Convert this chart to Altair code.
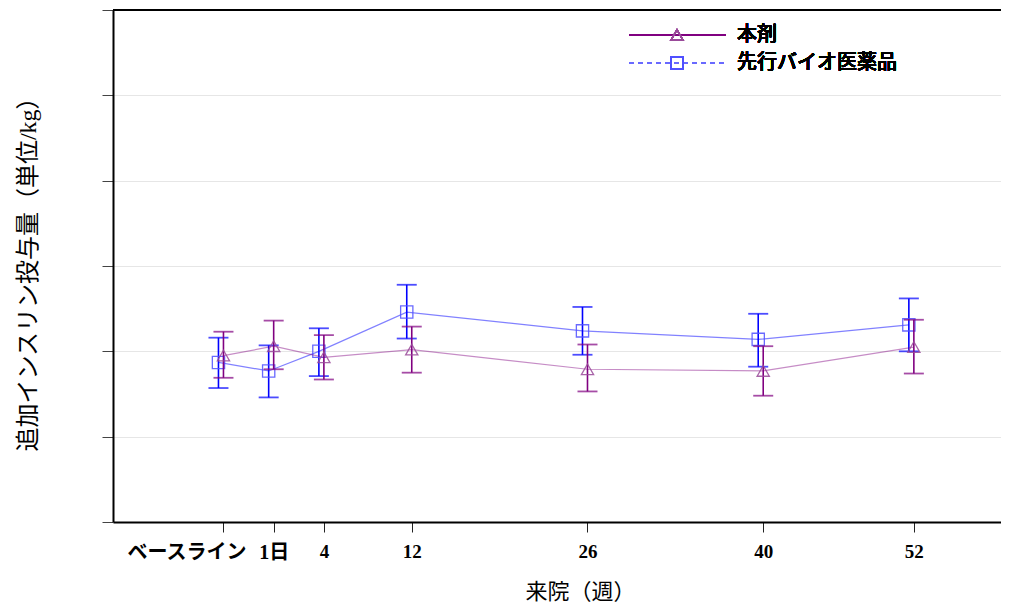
import altair as alt
import pandas as pd

visits = ["ベースライン", "1日", "4", "12", "26", "40", "52"]
visit_pos = [-3, 1, 5, 12, 26, 40, 52]
series = ["本剤", "先行バイオ医薬品"]

mean_a = [0.195, 0.206, 0.193, 0.202, 0.179, 0.177, 0.205]
lo_a = [0.169, 0.179, 0.167, 0.175, 0.153, 0.148, 0.174]
hi_a = [0.223, 0.236, 0.219, 0.229, 0.208, 0.206, 0.237]

mean_b = [0.187, 0.177, 0.200, 0.246, 0.224, 0.214, 0.231]
lo_b = [0.157, 0.146, 0.171, 0.215, 0.196, 0.182, 0.200]
hi_b = [0.216, 0.207, 0.227, 0.278, 0.252, 0.244, 0.262]

y_ticks = [0, 0.1, 0.2, 0.3, 0.4, 0.5, 0.6]

rows = []
for s, m, lo, hi in [(series[0], mean_a, lo_a, hi_a), (series[1], mean_b, lo_b, hi_b)]:
    for v, p, mm, l, h in zip(visits, visit_pos, m, lo, hi):
        rows.append({"series": s, "visit": v, "pos": p, "mean": mm, "lo": l, "hi": h})
df = pd.DataFrame(rows)

SERIF = "Liberation Serif, Noto Sans CJK JP"
CJK = "Noto Sans CJK JP"

PLOT_W = 895   # full drawn x range (right part runs off the page like the reference)
VIEW_W = 885   # visible view width so the page does not overflow

expr = "datum.label"
for p, v in reversed(list(zip(visit_pos, visits))):
    expr = f"datum.value == {p} ? '{v}' : ({expr})"

x_enc = alt.X(
    "pos:Q",
    scale=alt.Scale(domain=[-11.8, 59.5], nice=False, zero=False, range=[0, PLOT_W]),
    axis=alt.Axis(
        values=visit_pos,
        labelExpr=expr,
        title="来院（週）",
        grid=False,
        tickSize=10,
        tickColor="#222222",
        domainColor="#000000",
        domainWidth=2,
        labelFont=SERIF,
        labelFontSize={"condition": {"test": "datum.value < 2", "value": 20}, "value": 19},
        labelFontWeight="bold",
        labelColor="#000000",
        labelPadding=10,
        labelOffset={"condition": {"test": "datum.value < 0", "value": -37}, "value": 0},
        titleFont=SERIF,
        titleFontSize=22,
        titleFontWeight="normal",
        titleColor="#000000",
        titleX=467,
        titleY=69,
        titleBaseline="middle",
    ),
)

y_enc = alt.Y(
    "mean:Q",
    scale=alt.Scale(domain=[0, 0.6], nice=False, zero=False),
    axis=alt.Axis(
        values=y_ticks,
        labels=False,
        title="追加インスリン投与量（単位/kg）",
        grid=True,
        gridColor="#e6e6e6",
        gridWidth=1,
        tickSize=11,
        tickColor="#444444",
        domainColor="#000000",
        domainWidth=2,
        titleFont=SERIF,
        titleFontSize=24,
        titleFontWeight="normal",
        titleColor="#000000",
        titleX=-85,
        titleY=258,
        titleAngle=270,
        titleBaseline="middle",
    ),
)

styles = {
    series[0]: dict(off=0, err="#800080", line="#800080", lop=0.45, mark="#9a4a9a", shape="triangle-up"),
    series[1]: dict(off=-5, err="#0000ff", line="#1a1aff", lop=0.55, mark="#5050ff", shape="square"),
}

layers = []
for s in [series[1], series[0]]:
    st = styles[s]
    base = alt.Chart(df).transform_filter(alt.datum.series == s)
    layers.append(
        base.mark_line(color=st["line"], strokeWidth=1.2, opacity=st["lop"], xOffset=st["off"]).encode(x=x_enc, y=y_enc)
    )
    layers.append(
        base.mark_rule(color=st["err"], strokeWidth=1.6, xOffset=st["off"]).encode(
            x="pos:Q", y="lo:Q", y2="hi:Q"
        )
    )
    layers.append(
        base.mark_tick(orient="horizontal", color=st["err"], size=20, thickness=1.8, xOffset=st["off"]).encode(
            x="pos:Q", y="lo:Q"
        )
    )
    layers.append(
        base.mark_tick(orient="horizontal", color=st["err"], size=20, thickness=1.8, xOffset=st["off"]).encode(
            x="pos:Q", y="hi:Q"
        )
    )
    layers.append(
        base.mark_point(shape=st["shape"], filled=False, size=150, strokeWidth=1.3, color=st["mark"],
                        opacity=0.85, xOffset=st["off"]).encode(x="pos:Q", y="mean:Q")
    )

# top frame line
border = alt.Chart(df).mark_rule(color="#000000", strokeWidth=2).encode(
    x=alt.value(0), x2=alt.value(PLOT_W), y=alt.value(0)
)
layers.append(border)

# legend
leg = []
leg.append(alt.Chart(df).mark_rule(color="#800080", strokeWidth=2).encode(
    x=alt.value(516), x2=alt.value(613), y=alt.value(25)))
leg.append(alt.Chart(df).mark_point(shape="triangle-up", filled=False, size=150, strokeWidth=1.3,
                                    color="#9a4a9a", opacity=1).encode(x=alt.value(564), y=alt.value(25)))
leg.append(alt.Chart(df).mark_text(text=series[0], align="left", baseline="middle", font=CJK,
                                   fontSize=20, fontWeight=500, color="#000000").encode(
    x=alt.value(624), y=alt.value(25)))
leg.append(alt.Chart(df).mark_rule(color="#6a6aff", strokeWidth=1.3, strokeDash=[5, 4]).encode(
    x=alt.value(516), x2=alt.value(613), y=alt.value(53)))
leg.append(alt.Chart(df).mark_point(shape="square", filled=False, size=150, strokeWidth=1.3,
                                    color="#5050ff", opacity=1).encode(x=alt.value(564), y=alt.value(53)))
leg.append(alt.Chart(df).mark_text(text=series[1], align="left", baseline="middle", font=CJK,
                                   fontSize=20, fontWeight=500, color="#000000").encode(
    x=alt.value(624), y=alt.value(53)))
layers.extend(leg)

chart = alt.layer(*layers).properties(
    width=VIEW_W,
    height=512,
    background="white",
    autosize=alt.AutoSizeParams(type="none"),
    padding={"left": 105, "top": 2, "right": 3, "bottom": 80},
).configure_view(stroke="transparent", strokeWidth=0)

chart.save("out.html", embed_options={"renderer": "svg", "actions": False})
